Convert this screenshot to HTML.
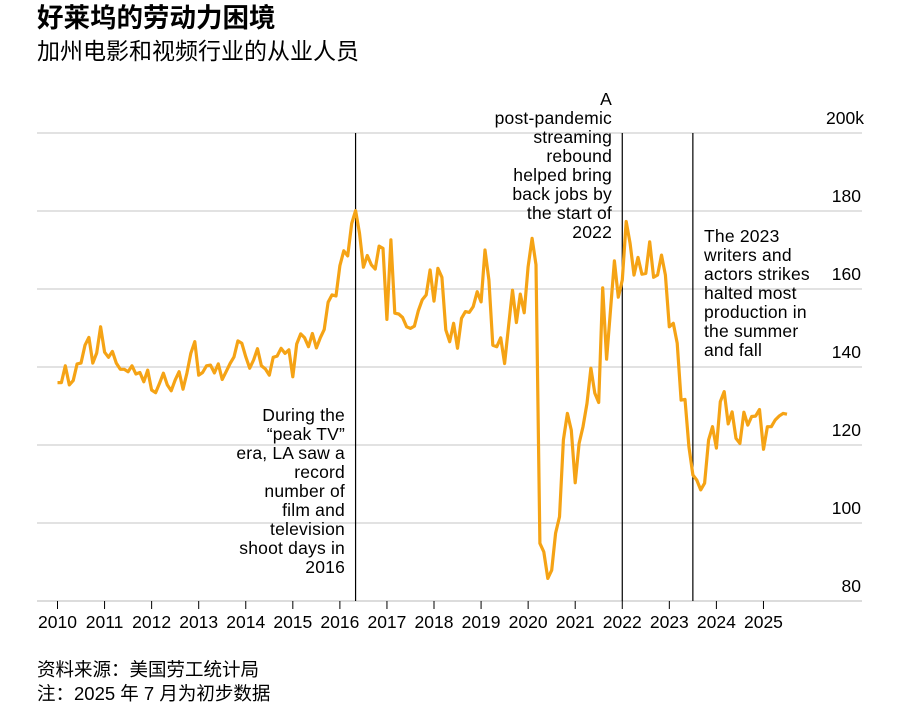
<!DOCTYPE html>
<html><head><meta charset="utf-8"><style>
body{margin:0;background:#fff;}
svg text{font-family:"Liberation Sans","Noto Sans CJK SC",sans-serif;fill:#000;}
</style></head><body>
<svg width="901" height="709" viewBox="0 0 901 709">
<text x="37" y="27" font-size="26.5" font-weight="bold">好莱坞的劳动力困境</text>
<text x="37" y="59" font-size="23">加州电影和视频行业的从业人员</text>
<g id="grid"></g>
<g id="ylab"></g>
<g id="xax"></g>
<g id="vlines"></g>
<path id="series" fill="none" stroke="#f5a315" stroke-width="3.2" stroke-linejoin="round"></path>
<g font-size="17.5" letter-spacing="0.2" text-anchor="end">
<text x="345" y="421">During the</text><text x="345" y="440">“peak TV”</text><text x="345" y="459">era, LA saw a</text><text x="345" y="478">record</text><text x="345" y="497">number of</text><text x="345" y="516">film and</text><text x="345" y="535">television</text><text x="345" y="554">shoot days in</text><text x="345" y="573">2016</text>
</g>
<g font-size="17.5" letter-spacing="0.2" text-anchor="end">
<text x="612" y="105">A</text><text x="612" y="124">post-pandemic</text><text x="612" y="143">streaming</text><text x="612" y="162">rebound</text><text x="612" y="181">helped bring</text><text x="612" y="200">back jobs by</text><text x="612" y="219">the start of</text><text x="612" y="238">2022</text>
</g>
<g font-size="17.5" letter-spacing="0.2">
<text x="704" y="242">The 2023</text><text x="704" y="261">writers and</text><text x="704" y="280">actors strikes</text><text x="704" y="299">halted most</text><text x="704" y="318">production in</text><text x="704" y="337">the summer</text><text x="704" y="356">and fall</text>
</g>
<text x="37" y="676" font-size="18.5">资料来源：美国劳工统计局</text>
<text x="37" y="700" font-size="18.5">注：2025 年 7 月为初步数据</text>
</svg>
<script>
const yTicks=[80,100,120,140,160,180,200];
const years=[2010,2011,2012,2013,2014,2015,2016,2017,2018,2019,2020,2021,2022,2023,2024,2025];
const annotMonths=[76,144,162];
const values=[136,136,140.3,135.4,136.5,140.8,141,145.6,147.6,141,143.6,150.3,
143.8,142.5,144,141,139.4,139.4,138.8,140.3,138.2,138.6,136.2,139.2,
134.1,133.4,135.8,138.4,135.4,133.9,136.7,138.8,134.3,138.4,143.5,146.5,
137.9,138.6,140.3,140.5,138.5,140.8,136.8,138.8,140.9,142.6,146.7,146.1,
142.6,139.7,141.8,144.7,140.3,139.5,137.9,142.5,142.8,144.8,143.5,144.4,
137.5,145.9,148.5,147.5,145.2,148.6,144.9,147.5,149.6,156.6,158.5,158.2,
166,169.8,168.5,176.8,180.1,174.3,165.6,168.6,166.2,165.1,171,170.4,
152.2,172.6,153.8,153.6,152.7,150.3,149.9,150.5,154.4,157.2,158.5,164.9,
156.9,165.3,163,149.5,146.5,151.2,144.8,152.5,154.2,154,155.5,159.3,
156.7,170,162.3,145.6,145.2,147.5,140.9,150.3,159.7,151.4,158.7,153.9,
165.7,173,166.2,94.8,92.6,85.8,87.9,97.4,101.6,121.3,128.1,123.8,
110.3,120.4,124.7,130.7,139.7,133.3,130.9,160.3,142,154.6,167.2,157.9,
162.3,177.3,171.7,163.6,168.1,163.8,164,172.1,163,163.6,168.7,163.6,
150.3,151.2,146.1,131.5,131.7,119.6,112.3,111,108.5,110.2,121.3,124.7,
119.2,131.1,133.7,125.4,128.5,121.7,120.4,128.4,125.1,127.3,127.4,129.1,
118.9,124.7,124.7,126.4,127.4,128.1,127.9];
const NS="http://www.w3.org/2000/svg";
const x=m=>57.5+m*3.922;
const y=v=>601-(v-80)*3.9;
function mk(tag,attrs,parent,txt){const e=document.createElementNS(NS,tag);for(const k in attrs)e.setAttribute(k,attrs[k]);if(txt!==undefined)e.textContent=txt;parent.appendChild(e);return e;}
const grid=document.getElementById('grid'),ylab=document.getElementById('ylab'),xax=document.getElementById('xax'),vl=document.getElementById('vlines');
yTicks.forEach(t=>{
 if(t>80){const g=mk('line',{x1:37,x2:862,y1:y(t),y2:y(t),stroke:'#d0d0d0','stroke-width':1.3},grid);
 
 }
 const lb=mk('text',{x:861,y:y(t)-9,'font-size':17.5,'text-anchor':'end'},ylab,String(t));
 if(t===200){mk('tspan',{},lb,'k');lb.setAttribute('text-anchor','start');lb.setAttribute('x',826);}
 
 
});
const ax=mk('line',{x1:37,x2:862,y1:601,y2:601,stroke:'#c8c8c8','stroke-width':1.3},xax);


years.forEach((yr,i)=>{
 const px=x(i*12);
 const tk=mk('line',{x1:px,x2:px,y1:601,y2:609,stroke:'#000','stroke-width':1},xax);
 
 
 const t=mk('text',{x:px,y:628,'font-size':17.5,'text-anchor':'middle'},xax,String(yr));
 
 
});
annotMonths.forEach(m=>{
 const l=mk('line',{x1:x(m),x2:x(m),y1:y(200),y2:601,stroke:'#000','stroke-width':1.2},vl);
 
 
});
document.getElementById('series').setAttribute('d',values.map((v,i)=>(i?'L':'M')+x(i).toFixed(1)+','+y(v).toFixed(1)).join(''));
</script>
</body></html>
